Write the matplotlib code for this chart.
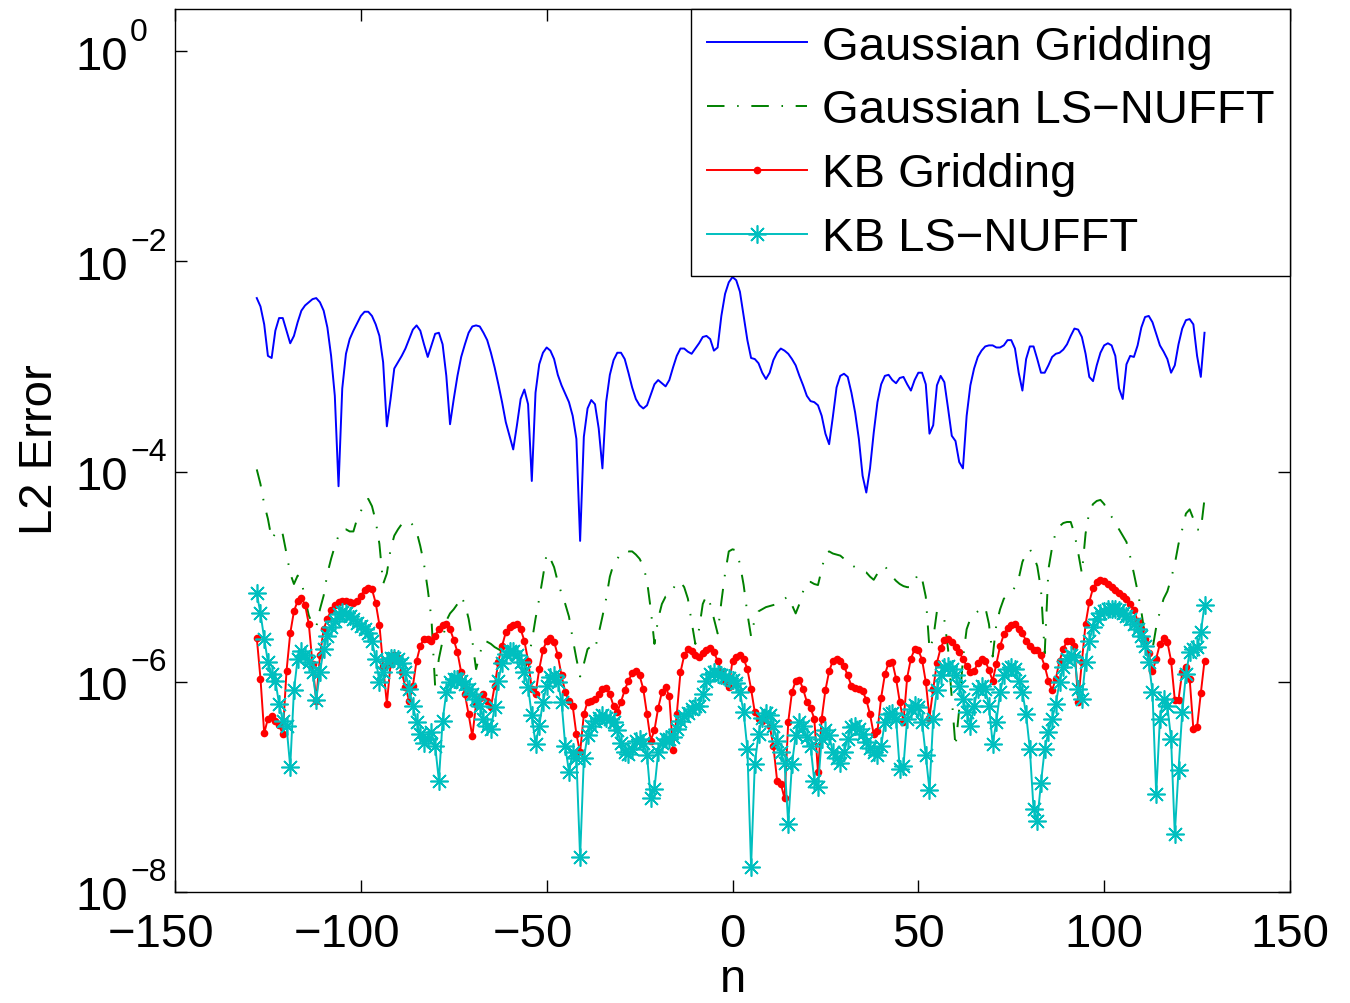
import numpy as np
import matplotlib
matplotlib.use("Agg")
import matplotlib.pyplot as plt
import matplotlib.transforms as mtransforms
from matplotlib.ticker import NullLocator

plt.rcParams['font.family'] = ['Liberation Sans', 'DejaVu Sans']

# sample index n
n = np.arange(-128, 128)

# log10 of L2 error, one value per n (-128 ... 127)
gauss_grid_log10 = [
    -2.35, -2.43, -2.60, -2.90, -2.92, -2.66, -2.54, -2.54, -2.66, -2.78, -2.71, -2.58, -2.47, -2.42, -2.39, -2.36,
    -2.35, -2.39, -2.47, -2.63, -2.90, -3.28, -4.14, -3.21, -2.88, -2.74, -2.66, -2.59, -2.52, -2.48, -2.48, -2.52,
    -2.60, -2.71, -2.96, -3.57, -3.31, -3.02, -2.96, -2.90, -2.83, -2.74, -2.65, -2.61, -2.66, -2.79, -2.91, -2.80,
    -2.69, -2.68, -2.79, -3.09, -3.55, -3.31, -3.09, -2.91, -2.79, -2.68, -2.62, -2.61, -2.62, -2.68, -2.75, -2.87,
    -3.01, -3.17, -3.34, -3.53, -3.66, -3.79, -3.56, -3.31, -3.22, -3.36, -4.09, -3.25, -2.98, -2.87, -2.82, -2.85,
    -2.93, -3.08, -3.18, -3.26, -3.34, -3.47, -3.69, -4.66, -3.67, -3.40, -3.32, -3.36, -3.59, -3.97, -3.34, -3.08,
    -2.94, -2.87, -2.87, -2.93, -3.06, -3.20, -3.31, -3.37, -3.40, -3.37, -3.27, -3.17, -3.13, -3.16, -3.19, -3.13,
    -3.01, -2.90, -2.83, -2.83, -2.86, -2.88, -2.83, -2.78, -2.72, -2.71, -2.74, -2.85, -2.82, -2.52, -2.31, -2.20,
    -2.15, -2.18, -2.29, -2.52, -2.75, -2.92, -2.93, -2.97, -3.06, -3.12, -3.06, -2.94, -2.87, -2.83, -2.85, -2.88,
    -2.93, -2.99, -3.09, -3.18, -3.28, -3.33, -3.34, -3.37, -3.47, -3.64, -3.74, -3.48, -3.20, -3.09, -3.07, -3.10,
    -3.25, -3.44, -3.69, -4.04, -4.20, -3.97, -3.63, -3.34, -3.17, -3.09, -3.08, -3.13, -3.16, -3.11, -3.10, -3.17,
    -3.23, -3.13, -3.06, -3.06, -3.17, -3.64, -3.56, -3.18, -3.09, -3.15, -3.40, -3.66, -3.71, -3.91, -3.97, -3.47,
    -3.18, -3.02, -2.91, -2.85, -2.81, -2.80, -2.80, -2.82, -2.82, -2.80, -2.75, -2.75, -2.83, -3.06, -3.23, -2.93,
    -2.81, -2.81, -2.93, -3.06, -3.06, -2.99, -2.91, -2.88, -2.87, -2.84, -2.79, -2.71, -2.64, -2.65, -2.72, -2.88,
    -3.10, -3.14, -2.99, -2.87, -2.80, -2.78, -2.80, -2.90, -3.21, -3.31, -2.98, -2.90, -2.91, -2.80, -2.63, -2.53,
    -2.52, -2.58, -2.69, -2.80, -2.86, -2.93, -3.06, -2.99, -2.79, -2.64, -2.56, -2.55, -2.60, -2.90, -3.10, -2.68,
]

gauss_ls_log10 = [
    -3.98, -4.12, -4.31, -4.45, -4.64, -4.59, -4.55, -4.60, -4.78, -4.97, -5.07, -4.99, -5.04, -5.21, -5.37, -5.45,
    -5.48, -5.31, -5.18, -4.97, -4.83, -4.71, -4.61, -4.55, -4.55, -4.57, -4.57, -4.45, -4.38, -4.28, -4.26, -4.33,
    -4.47, -4.69, -5.07, -4.97, -4.74, -4.61, -4.55, -4.50, -4.48, -4.47, -4.51, -4.57, -4.71, -4.88, -5.12, -5.40,
    -6.05, -5.78, -5.61, -5.42, -5.35, -5.31, -5.26, -5.19, -5.26, -5.40, -5.61, -5.88, -5.74, -5.61, -5.62, -5.64,
    -5.67, -5.69, -5.71, -5.74, -5.76, -5.80, -5.83, -5.86, -5.90, -5.78, -5.62, -5.40, -5.21, -5.00, -4.78, -4.83,
    -4.91, -5.05, -5.16, -5.26, -5.38, -5.59, -5.78, -5.95, -5.83, -5.69, -5.66, -5.69, -5.54, -5.38, -5.21, -5.00,
    -4.88, -4.83, -4.78, -4.75, -4.76, -4.76, -4.79, -4.83, -4.90, -5.04, -5.31, -5.64, -5.40, -5.26, -5.19, -5.18,
    -5.12, -5.05, -5.05, -5.10, -5.21, -5.43, -5.64, -5.50, -5.26, -5.18, -5.26, -5.40, -5.54, -5.24, -4.97, -4.76,
    -4.74, -4.75, -4.88, -5.08, -5.35, -5.57, -5.40, -5.33, -5.31, -5.29, -5.28, -5.27, -5.26, -5.24, -5.21, -5.19,
    -5.27, -5.35, -5.26, -5.14, -5.05, -5.05, -5.07, -5.08, -4.93, -4.78, -4.76, -4.78, -4.79, -4.80, -4.83, -4.87,
    -4.89, -4.91, -4.93, -4.95, -4.96, -5.00, -5.03, -4.97, -4.93, -4.90, -4.95, -5.00, -5.04, -5.07, -5.09, -5.10,
    -5.10, -5.04, -4.97, -5.02, -5.19, -5.69, -5.59, -5.33, -5.35, -5.41, -5.69, -6.16, -6.62, -6.26, -5.78, -5.50,
    -5.40, -5.37, -5.33, -5.30, -5.29, -5.45, -5.76, -5.45, -5.31, -5.21, -5.18, -5.15, -5.10, -5.02, -4.86, -4.78,
    -4.74, -4.80, -4.90, -5.12, -5.73, -4.93, -4.72, -4.57, -4.52, -4.49, -4.48, -4.48, -4.59, -4.77, -4.97, -4.59,
    -4.38, -4.31, -4.28, -4.27, -4.31, -4.38, -4.43, -4.49, -4.55, -4.61, -4.67, -4.81, -4.97, -5.14, -5.33, -5.57,
    -5.69, -5.69, -5.48, -5.33, -5.21, -5.14, -5.02, -4.88, -4.69, -4.55, -4.40, -4.36, -4.45, -4.55, -4.56, -4.26,
]

kb_grid_log10 = [
    -5.58, -5.97, -6.49, -6.35, -6.33, -6.37, -6.41, -6.50, -5.90, -5.54, -5.33, -5.23, -5.20, -5.27, -5.45, -5.83,
    -6.18, -5.75, -5.50, -5.40, -5.32, -5.27, -5.24, -5.23, -5.23, -5.24, -5.25, -5.23, -5.18, -5.13, -5.11, -5.12,
    -5.25, -5.46, -5.85, -6.21, -5.83, -5.75, -5.77, -5.91, -6.05, -6.18, -6.04, -5.80, -5.66, -5.59, -5.59, -5.61,
    -5.56, -5.50, -5.46, -5.45, -5.50, -5.60, -5.72, -5.91, -6.12, -6.31, -6.52, -6.21, -6.15, -6.12, -6.18, -6.24,
    -6.04, -5.81, -5.66, -5.53, -5.48, -5.46, -5.45, -5.50, -5.61, -5.80, -6.07, -6.12, -5.88, -5.70, -5.61, -5.58,
    -5.62, -5.75, -5.94, -6.10, -6.18, -6.23, -6.50, -6.67, -6.31, -6.19, -6.18, -6.16, -6.12, -6.07, -6.06, -6.12,
    -6.23, -6.29, -6.19, -6.08, -5.99, -5.92, -5.90, -5.94, -6.07, -6.31, -6.56, -6.46, -6.25, -6.10, -6.05, -6.14,
    -6.65, -6.31, -5.91, -5.75, -5.69, -5.71, -5.75, -5.76, -5.73, -5.70, -5.68, -5.72, -5.80, -5.91, -5.99, -6.05,
    -5.80, -5.76, -5.75, -5.78, -5.88, -6.07, -6.29, -6.35, -6.37, -6.31, -6.42, -6.61, -6.94, -6.97, -7.11, -6.38,
    -6.10, -5.99, -5.98, -6.07, -6.19, -6.25, -6.35, -6.86, -6.35, -6.08, -5.90, -5.80, -5.78, -5.80, -5.85, -5.94,
    -6.04, -6.06, -6.07, -6.09, -6.17, -6.31, -6.50, -6.47, -6.15, -5.93, -5.82, -5.81, -5.97, -6.19, -6.38, -5.96,
    -5.78, -5.69, -5.70, -5.79, -6.00, -6.34, -6.07, -5.82, -5.68, -5.60, -5.59, -5.62, -5.67, -5.72, -5.78, -5.85,
    -5.91, -5.90, -5.82, -5.78, -5.80, -5.89, -5.99, -5.83, -5.66, -5.55, -5.49, -5.46, -5.45, -5.50, -5.54, -5.61,
    -5.66, -5.70, -5.70, -5.75, -5.85, -5.99, -6.08, -5.97, -5.80, -5.69, -5.61, -5.61, -5.66, -6.19, -5.81, -5.45,
    -5.24, -5.11, -5.05, -5.03, -5.04, -5.07, -5.10, -5.13, -5.16, -5.18, -5.21, -5.26, -5.32, -5.42, -5.50, -5.59,
    -5.73, -5.90, -5.78, -5.64, -5.58, -5.62, -5.80, -6.17, -6.17, -5.91, -5.86, -5.97, -6.45, -6.43, -6.11, -5.80,
]

kb_ls_log10 = [
    -5.16, -5.35, -5.59, -5.81, -5.93, -5.99, -6.21, -6.37, -6.42, -6.81, -6.08, -5.78, -5.71, -5.75, -5.81, -5.91,
    -6.17, -5.91, -5.69, -5.56, -5.48, -5.42, -5.36, -5.34, -5.35, -5.37, -5.40, -5.44, -5.47, -5.50, -5.54, -5.61,
    -5.78, -6.00, -5.91, -5.80, -5.77, -5.77, -5.78, -5.82, -5.91, -6.07, -6.23, -6.38, -6.50, -6.58, -6.54, -6.48,
    -6.61, -6.94, -6.37, -6.10, -6.00, -5.97, -5.97, -5.99, -6.02, -6.07, -6.12, -6.16, -6.23, -6.35, -6.42, -6.45,
    -6.24, -5.99, -5.82, -5.74, -5.71, -5.71, -5.75, -5.81, -5.91, -6.05, -6.32, -6.59, -6.42, -6.19, -6.04, -5.95,
    -5.94, -6.00, -6.19, -6.61, -6.86, -6.67, -6.73, -7.67, -6.73, -6.51, -6.42, -6.37, -6.34, -6.32, -6.34, -6.35,
    -6.38, -6.46, -6.58, -6.67, -6.69, -6.64, -6.56, -6.54, -6.58, -6.70, -7.11, -7.02, -6.67, -6.58, -6.54, -6.54,
    -6.53, -6.45, -6.37, -6.33, -6.30, -6.26, -6.23, -6.23, -6.12, -5.99, -5.93, -5.91, -5.93, -5.94, -5.95, -5.96,
    -5.98, -6.01, -6.10, -6.29, -6.64, -7.76, -6.78, -6.50, -6.34, -6.30, -6.32, -6.42, -6.56, -6.67, -6.77, -7.35,
    -6.78, -6.51, -6.38, -6.42, -6.53, -6.61, -6.94, -7.00, -6.54, -6.46, -6.51, -6.67, -6.73, -6.77, -6.67, -6.54,
    -6.43, -6.42, -6.45, -6.50, -6.57, -6.63, -6.67, -6.70, -6.61, -6.38, -6.31, -6.30, -6.35, -6.83, -6.80, -6.35,
    -6.26, -6.22, -6.24, -6.38, -6.70, -7.03, -6.35, -6.08, -5.94, -5.86, -5.85, -5.88, -5.94, -6.04, -6.16, -6.29,
    -6.42, -6.23, -6.07, -6.04, -6.07, -6.23, -6.59, -6.38, -6.10, -5.94, -5.88, -5.86, -5.88, -5.99, -6.10, -6.31,
    -6.64, -7.21, -7.32, -6.96, -6.64, -6.48, -6.35, -6.21, -6.00, -5.86, -5.78, -5.75, -5.76, -6.07, -6.16, -5.81,
    -5.61, -5.48, -5.40, -5.35, -5.33, -5.31, -5.31, -5.31, -5.32, -5.35, -5.37, -5.40, -5.45, -5.50, -5.56, -5.66,
    -5.81, -6.10, -7.07, -6.35, -6.16, -6.23, -6.54, -7.45, -6.84, -6.29, -5.93, -5.72, -5.69, -5.67, -5.53, -5.27,
]

labels = ["Gaussian Gridding", "Gaussian LS\u2212NUFFT", "KB Gridding", "KB LS\u2212NUFFT"]
xticks = [-150, -100, -50, 0, 50, 100, 150]
xtick_labels = ["\u2212150", "\u2212100", "\u221250", "0", "50", "100", "150"]
yticks = [1e0, 1e-2, 1e-4, 1e-6, 1e-8]
ytick_exponents = ["0", "\u22122", "\u22124", "\u22126", "\u22128"]

FS = 34
fig = plt.figure(figsize=(13.5, 10.04), dpi=100)
ax = fig.add_axes([175 / 1350, 1 - 893 / 1004, (1290 - 175) / 1350, (893 - 10) / 1004])

lw = 1.4
ax.plot(n, 10 ** np.array(gauss_grid_log10), color='#0000ff', lw=lw, label=labels[0])
ax.plot(n, 10 ** np.array(gauss_ls_log10), color='#008000', lw=lw,
        linestyle=(0, (9, 6.5, 0.8, 6.5)), label=labels[1])
ax.plot(n, 10 ** np.array(kb_grid_log10), color='#ff0000', lw=lw, marker='o',
        markersize=5.5, markeredgewidth=0, label=labels[2])
ax.plot(n, 10 ** np.array(kb_ls_log10), color='#00bfbf', lw=lw, marker=(8, 2, 0),
        markersize=13, markeredgewidth=1.2, label=labels[3])

ax.set_yscale('log')
ax.set_xlim(-150, 150)
ax.set_ylim(1e-8, 10 ** 0.4)
ax.set_xticks(xticks)
ax.set_yticks(yticks)
ax.yaxis.set_minor_locator(NullLocator())
ax.set_xticklabels([])
ax.set_yticklabels([])
ax.tick_params(direction='in', length=8.5, width=1, top=True, right=True)
for s in ax.spines.values():
    s.set_linewidth(1.0)

px = 1 / 100.0  # one pixel in inches
# x tick labels (negative labels sit slightly left, as in the original)
xtr = mtransforms.blended_transform_factory(ax.transData, ax.transAxes)
for v, lab in zip(xticks, xtick_labels):
    dx = -14 * px if lab.startswith("\u2212") else 0
    off = mtransforms.ScaledTranslation(dx, -54 * px, fig.dpi_scale_trans)
    ax.text(v, 0, lab, transform=xtr + off, ha='center', va='baseline',
            fontsize=FS, clip_on=False)

# y tick labels: base "10" plus a raised exponent
ytr = mtransforms.blended_transform_factory(ax.transAxes, ax.transData)
for v, e in zip(yticks, ytick_exponents):
    off_b = mtransforms.ScaledTranslation(-47 * px, -17.5 * px, fig.dpi_scale_trans)
    ax.text(0, v, "10", transform=ytr + off_b, ha='right', va='baseline',
            fontsize=FS, clip_on=False)
    off_e = mtransforms.ScaledTranslation(-45 * px, 11.5 * px, fig.dpi_scale_trans)
    ax.text(0, v, e, transform=ytr + off_e, ha='left', va='baseline',
            fontsize=23, clip_on=False)

fig.text(52 / 1350, 1 - 450 / 1004, 'L2 Error', rotation=90, rotation_mode='anchor',
         ha='center', va='baseline', fontsize=FS)
fig.text(733 / 1350, 1 - 992 / 1004, 'n', ha='center', va='baseline', fontsize=FS)

leg = ax.legend(loc='upper right', borderaxespad=0, fancybox=False, edgecolor='black',
                framealpha=1, fontsize=FS, handlelength=2.12, handletextpad=0.32,
                labelspacing=0.42, borderpad=0.33)
leg.get_frame().set_linewidth(1.0)

fig.savefig('out.png', dpi=100)
